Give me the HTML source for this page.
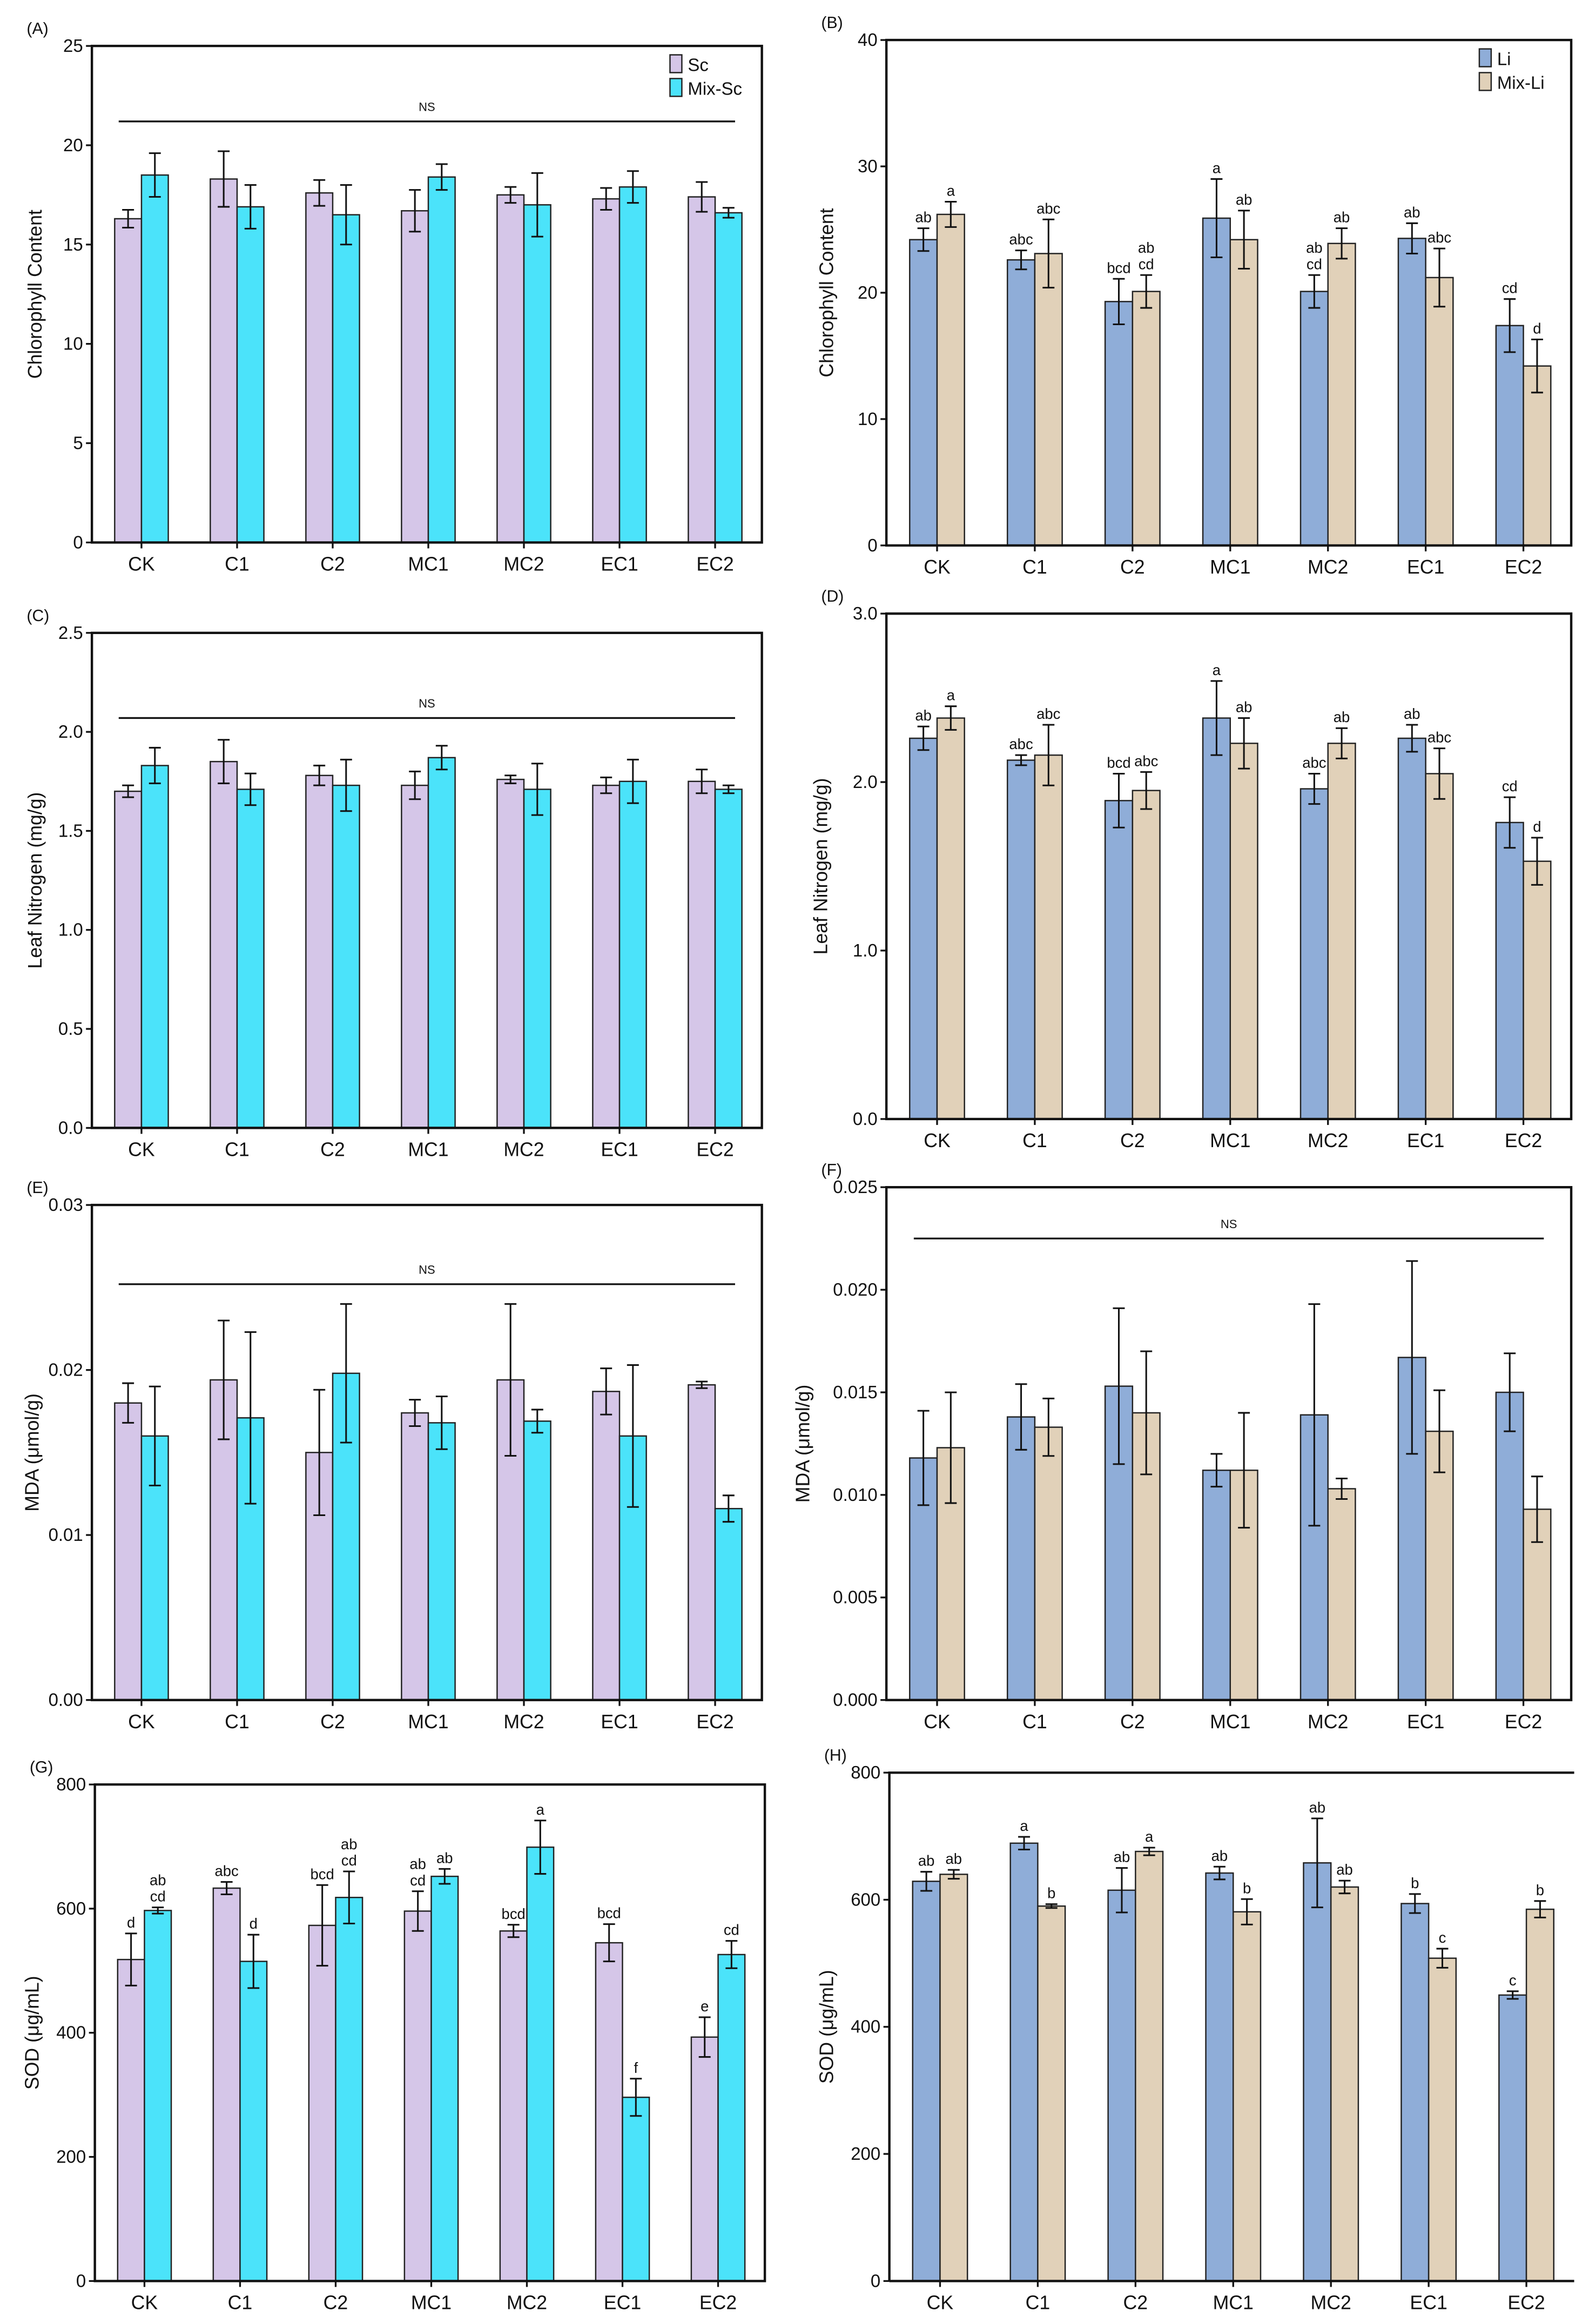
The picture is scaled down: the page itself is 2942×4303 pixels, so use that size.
<!DOCTYPE html>
<html><head><meta charset="utf-8">
<style>
html,body{margin:0;padding:0;background:#fff;}
svg{display:block;}
text{font-family:"Liberation Sans",Arial,sans-serif;fill:#111;}
</style></head>
<body>
<svg id="fig" width="2942" height="4303" viewBox="0 0 1072 1568" preserveAspectRatio="none" xmlns="http://www.w3.org/2000/svg"></svg>
<script>
const categories = ["CK","C1","C2","MC1","MC2","EC1","EC2"];

const aSc = [16.3,18.3,17.6,16.7,17.5,17.3,17.4];
const aScErr = [0.45,1.4,0.65,1.05,0.4,0.55,0.75];
const aMix = [18.5,16.9,16.5,18.4,17.0,17.9,16.6];
const aMixErr = [1.1,1.1,1.5,0.65,1.6,0.8,0.25];
const aTicks = [0,5,10,15,20,25];

const bLi = [24.2,22.6,19.3,25.9,20.1,24.3,17.4];
const bLiErr = [0.9,0.75,1.8,3.1,1.3,1.2,2.1];
const bMix = [26.2,23.1,20.1,24.2,23.9,21.2,14.2];
const bMixErr = [1.0,2.7,1.3,2.3,1.2,2.3,2.1];
const bLiLetters = ["ab","abc","bcd","a","ab|cd","ab","cd"];
const bMixLetters = ["a","abc","ab|cd","ab","ab","abc","d"];
const bTicks = [0,10,20,30,40];

const cSc = [1.70,1.85,1.78,1.73,1.76,1.73,1.75];
const cScErr = [0.03,0.11,0.05,0.07,0.02,0.04,0.06];
const cMix = [1.83,1.71,1.73,1.87,1.71,1.75,1.71];
const cMixErr = [0.09,0.08,0.13,0.06,0.13,0.11,0.02];
const cTicks = ["0.0","0.5","1.0","1.5","2.0","2.5"];

const dLi = [2.26,2.13,1.89,2.38,1.96,2.26,1.76];
const dLiErr = [0.07,0.03,0.16,0.22,0.09,0.08,0.15];
const dMix = [2.38,2.16,1.95,2.23,2.23,2.05,1.53];
const dMixErr = [0.07,0.18,0.11,0.15,0.09,0.15,0.14];
const dLiLetters = ["ab","abc","bcd","a","abc","ab","cd"];
const dMixLetters = ["a","abc","abc","ab","ab","abc","d"];
const dTicks = ["0.0","1.0","2.0","3.0"];

const eSc = [0.0180,0.0194,0.0150,0.0174,0.0194,0.0187,0.0191];
const eScErr = [0.0012,0.0036,0.0038,0.0008,0.0046,0.0014,0.0002];
const eMix = [0.0160,0.0171,0.0198,0.0168,0.0169,0.0160,0.0116];
const eMixErr = [0.0030,0.0052,0.0042,0.0016,0.0007,0.0043,0.0008];
const eTicks = ["0.00","0.01","0.02","0.03"];

const fLi = [0.0118,0.0138,0.0153,0.0112,0.0139,0.0167,0.0150];
const fLiErr = [0.0023,0.0016,0.0038,0.0008,0.0054,0.0047,0.0019];
const fMix = [0.0123,0.0133,0.0140,0.0112,0.0103,0.0131,0.0093];
const fMixErr = [0.0027,0.0014,0.0030,0.0028,0.0005,0.0020,0.0016];
const fTicks = ["0.000","0.005","0.010","0.015","0.020","0.025"];

const gSc = [518,633,573,596,564,545,393];
const gScErr = [42,10,65,32,10,30,32];
const gMix = [597,515,618,652,699,296,526];
const gMixErr = [5,43,42,12,43,30,22];
const gScLetters = ["d","abc","bcd","ab|cd","bcd","bcd","e"];
const gMixLetters = ["ab|cd","d","ab|cd","ab","a","f","cd"];
const gTicks = [0,200,400,600,800];

const hLi = [629,689,615,642,658,594,450];
const hLiErr = [15,10,35,10,70,15,6];
const hMix = [640,590,676,581,620,508,585];
const hMixErr = [7,3,6,20,10,15,13];
const hLiLetters = ["ab","a","ab","ab","ab","b","c"];
const hMixLetters = ["ab","b","a","b","ab","c","b"];
const hTicks = [0,200,400,600,800];

const NS = "http://www.w3.org/2000/svg";
const svg = document.getElementById('fig');
function mk(tag, attrs, parent){
  const e = document.createElementNS(NS, tag);
  for (const k in attrs) e.setAttribute(k, attrs[k]);
  (parent||svg).appendChild(e);
  return e;
}
const PURPLE="#d5c6e8", CYAN="#4be3fa", BLUE="#8fadd8", TAN="#e1d1b9";

function panel(o){
  const g = mk('g',{});
  
  
  const L=o.l,R=o.r,T=o.t,B=o.b,W=R-L;
  const ymax=o.ymax;
  const y = v => B - (v/ymax)*(B-T);
  const cx = i => L + W*(0.074 + i*0.1427);
  const bw = W*0.04;
  const lab = mk('text',{x:L-44,y:T-8,'font-size':11},g);
  lab.textContent='('+o.id+')';
  
  
  [[o.s1,o.e1,o.c1,o.l1,-1],[o.s2,o.e2,o.c2,o.l2,0]].forEach((ser,si)=>{
    ser[0].forEach((v,i)=>{
      const x0 = cx(i)+ser[4]*bw;
      const r = mk('rect',{x:x0,y:y(v),width:bw,height:B-y(v),fill:ser[2],stroke:'#222','stroke-width':0.9},g);
      
      
      const xm=x0+bw/2, e=ser[1][i];
      const eb = mk('path',{d:`M${xm},${y(v+e)}V${y(v-e)}M${xm-4},${y(v+e)}H${xm+4}M${xm-4},${y(v-e)}H${xm+4}`,stroke:'#111','stroke-width':1.1,fill:'none'},g);
      
      
      if(ser[3]){
        const parts=ser[3][i].split('|');
        parts.forEach((p,pi)=>{
          const t=mk('text',{x:xm,y:y(v+e)-4-(parts.length-1-pi)*11,'font-size':10,'text-anchor':'middle'},g);
          t.textContent=p;
          
          
        });
      }
    });
  });
  const fr = o.noRight ? `M${L},${B}V${T}H${R}M${L},${B}H${R}` : `M${L},${T}H${R}V${B}H${L}Z`;
  const ax = mk('path',{d:fr,fill:'none',stroke:'#111','stroke-width':1.6},g);
  
  
  o.ticks.forEach(tk=>{
    const yy=y(parseFloat(tk));
    mk('line',{x1:L-4,x2:L,y1:yy,y2:yy,stroke:'#111','stroke-width':1.2},g);
    const t=mk('text',{x:L-6,y:yy+4,'font-size':12,'text-anchor':'end'},g);
    t.textContent=tk;
    
    
  });
  categories.forEach((c,i)=>{
    mk('line',{x1:cx(i),x2:cx(i),y1:B,y2:B+4,stroke:'#111','stroke-width':1.2},g);
    const t=mk('text',{x:cx(i),y:B+19,'font-size':13,'text-anchor':'middle'},g);
    t.textContent=c;
    
    
  });
  const off = o.titleOff || 33;
  const yt=mk('text',{x:0,y:0,'font-size':13,'text-anchor':'middle',transform:`translate(${L-off},${(T+B)/2}) rotate(-90)`},g);
  yt.textContent=o.title;
  
  
  if(o.ns!==undefined){
    const ny=y(o.ns);
    mk('line',{x1:L+W*0.04,x2:L+W*0.96,y1:ny,y2:ny,stroke:'#111','stroke-width':1.2},g);
    const t=mk('text',{x:(L+R)/2,y:ny-7,'font-size':8,'text-anchor':'middle'},g);
    t.textContent='NS';
    
    
  }
  if(o.legend){
    o.legend.forEach((lg,i)=>{
      const ly=T+6+i*16;
      const r=mk('rect',{x:R-62,y:ly,width:8,height:12,fill:lg[1],stroke:'#222','stroke-width':0.9},g);
      
      
      const t=mk('text',{x:R-50,y:ly+11,'font-size':12},g);
      t.textContent=lg[0];
      
      
    });
  }
}

panel({id:'A',l:62,r:514,t:31,b:366,ymax:25,ticks:aTicks.map(String),s1:aSc,e1:aScErr,c1:PURPLE,s2:aMix,e2:aMixErr,c2:CYAN,title:'Chlorophyll Content',ns:21.2,titleOff:34,legend:[['Sc',PURPLE],['Mix-Sc',CYAN]]});
panel({id:'B',l:598,r:1060,t:27,b:368,ymax:40,ticks:bTicks.map(String),s1:bLi,e1:bLiErr,c1:BLUE,s2:bMix,e2:bMixErr,c2:TAN,l1:bLiLetters,l2:bMixLetters,title:'Chlorophyll Content',titleOff:36,legend:[['Li',BLUE],['Mix-Li',TAN]]});
panel({id:'C',l:62,r:514,t:427,b:761,ymax:2.5,ticks:cTicks,s1:cSc,e1:cScErr,c1:PURPLE,s2:cMix,e2:cMixErr,c2:CYAN,title:'Leaf Nitrogen (mg/g)',ns:2.07,titleOff:34});
panel({id:'D',l:598,r:1060,t:414,b:755,ymax:3.0,ticks:dTicks,s1:dLi,e1:dLiErr,c1:BLUE,s2:dMix,e2:dMixErr,c2:TAN,l1:dLiLetters,l2:dMixLetters,title:'Leaf Nitrogen (mg/g)',titleOff:40});
panel({id:'E',l:62,r:514,t:813,b:1147,ymax:0.03,ticks:eTicks,s1:eSc,e1:eScErr,c1:PURPLE,s2:eMix,e2:eMixErr,c2:CYAN,title:'MDA (μmol/g)',ns:0.0252,titleOff:36});
panel({id:'F',l:598,r:1060,t:801,b:1147,ymax:0.025,ticks:fTicks,s1:fLi,e1:fLiErr,c1:BLUE,s2:fMix,e2:fMixErr,c2:TAN,title:'MDA (μmol/g)',ns:0.0225,titleOff:52});
panel({id:'G',l:64,r:516,t:1204,b:1539,ymax:800,ticks:gTicks.map(String),s1:gSc,e1:gScErr,c1:PURPLE,s2:gMix,e2:gMixErr,c2:CYAN,l1:gScLetters,l2:gMixLetters,title:'SOD (μg/mL)',titleOff:38});
panel({id:'H',l:600,r:1062,t:1196,b:1539,ymax:800,ticks:hTicks.map(String),s1:hLi,e1:hLiErr,c1:BLUE,s2:hMix,e2:hMixErr,c2:TAN,l1:hLiLetters,l2:hMixLetters,title:'SOD (μg/mL)',noRight:true,titleOff:38});
</script>
</body></html>
